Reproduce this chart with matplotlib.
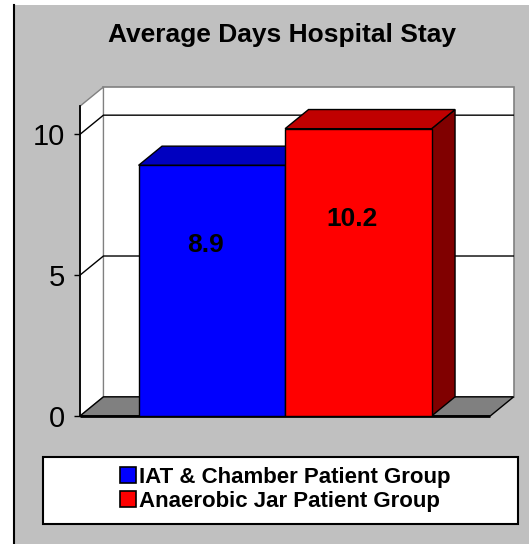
import matplotlib
matplotlib.use("Agg")
import matplotlib.pyplot as plt
from matplotlib.patches import Polygon, Rectangle, Patch
from matplotlib.lines import Line2D

plt.rcParams["font.family"] = ["Liberation Sans", "DejaVu Sans"]

# data
groups = ["IAT & Chamber Patient Group", "Anaerobic Jar Patient Group"]
avg_days = [8.9, 10.2]
value_labels = ["8.9", "10.2"]
front_colors = ["#0000FF", "#FF0000"]
top_colors = ["#0000C0", "#C00000"]
side_colors = ["#000080", "#800000"]
yticks = [0, 5, 10]
wall_top = 11

# fake 3d depth, in data units
DX = 0.16
DY = 0.68
XL, XR = -0.9, 1.9

W, H = 529, 544
fig = plt.figure(figsize=(W / 100, H / 100), dpi=100)

# gray panel + left border
fig.patches.append(Rectangle((13 / W, 0), 1 - 13 / W, (H - 5) / H,
                             transform=fig.transFigure, facecolor="#C0C0C0",
                             edgecolor="none", zorder=-2))
fig.add_artist(Line2D([13.5 / W, 13.5 / W], [0, (H - 5) / H], color="black", lw=1.5,
                      zorder=-1))

fig.text(281.5 / W, (H - 42) / H, "Average Days Hospital Stay", ha="center",
         va="baseline", fontsize=19, fontweight="bold")

ax = fig.add_axes([80 / W, 128 / H, (XR + DX - XL) * 146.5 / W, 329 / H])
ax.set_xlim(XL, XR + DX)
ax.set_ylim(0, wall_top + DY)
ax.patch.set_visible(False)

# walls and floor
left_wall = Polygon([(XL, 0), (XL, wall_top), (XL + DX, wall_top + DY), (XL + DX, DY)],
                    closed=True, facecolor="white", edgecolor="#808080", lw=1, zorder=1,
                    clip_on=False)
back_wall = Rectangle((XL + DX, DY), XR - XL, wall_top, facecolor="white",
                      edgecolor="#808080", lw=1.2, zorder=1, clip_on=False)
floor = Polygon([(XL, 0), (XR, 0), (XR + DX, DY), (XL + DX, DY)], closed=True,
                facecolor="#808080", edgecolor="black", lw=1, zorder=2, clip_on=False)
ax.add_patch(back_wall)
ax.add_patch(left_wall)
ax.add_patch(floor)
ax.plot([XL, XR], [0, 0], color="black", lw=2, zorder=3, solid_capstyle="butt",
        clip_on=False)

for t in yticks[1:]:
    ax.plot([XL, XL + DX, XR + DX], [t, t + DY, t + DY], color="black", lw=1, zorder=1.5)

# bars with top and side faces
xs = list(range(len(avg_days)))
for i, (x, v) in enumerate(zip(xs, avg_days)):
    z = 4 + 2 * i
    side = Polygon([(x + 0.5, 0), (x + 0.5, v), (x + 0.5 + DX, v + DY), (x + 0.5 + DX, DY)],
                   closed=True, facecolor=side_colors[i], edgecolor="black", lw=1, zorder=z)
    top = Polygon([(x - 0.5, v), (x + 0.5, v), (x + 0.5 + DX, v + DY), (x - 0.5 + DX, v + DY)],
                  closed=True, facecolor=top_colors[i], edgecolor="black", lw=1, zorder=z)
    ax.add_patch(side)
    ax.add_patch(top)
    ax.bar(x, v, width=1.0, color=front_colors[i], edgecolor="black", lw=1, zorder=z + 1)
    ax.text(x - 0.04, v * 0.7 - 0.15, value_labels[i], ha="center", va="center",
            fontsize=19, fontweight="bold", zorder=10)

ax.set_xticks([])
ax.set_yticks(yticks)
ax.tick_params(axis="y", length=4, width=1, pad=7, labelsize=21)
for s in ["top", "right", "bottom"]:
    ax.spines[s].set_visible(False)
ax.spines["left"].set_bounds(0, wall_top)
ax.spines["left"].set_linewidth(1.3)
ax.spines["left"].set_zorder(3)

# legend
fig.patches.append(Rectangle((43 / W, (H - 524) / H), 475 / W, 67 / H,
                             transform=fig.transFigure, facecolor="white",
                             edgecolor="black", lw=1.5, zorder=1))
handles = [Patch(facecolor=c, edgecolor="black", lw=1.2) for c in front_colors]
leg = fig.legend(handles, groups, loc="center", bbox_to_anchor=(285 / W, (H - 489.5) / H),
                 frameon=False, prop={"size": 16, "weight": "bold"}, handlelength=0.72,
                 handleheight=0.72, handletextpad=0.15, labelspacing=0.13, borderpad=0)
leg.set_zorder(5)

fig.savefig("out.png", dpi=100)
